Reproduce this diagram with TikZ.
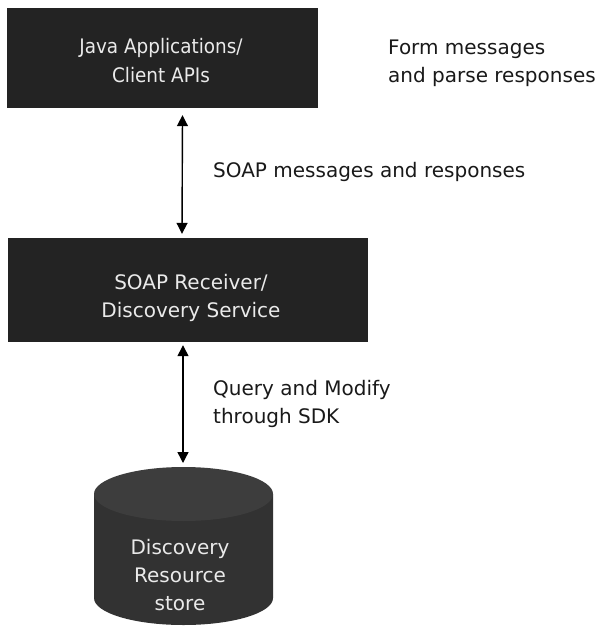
\documentclass[tikz,border=0pt]{standalone}
\usepackage{fontspec}
\setmainfont{DejaVu Sans}
\newfontfamily\narrowsans[FakeStretch=0.92]{DejaVu Sans}
\usetikzlibrary{arrows.meta,shapes.geometric}
\definecolor{boxfill}{HTML}{232323}
\definecolor{boxtext}{HTML}{EAEAEA}
\definecolor{drumbody}{HTML}{323232}
\definecolor{drumtop}{HTML}{3D3D3D}
\begin{document}
\begin{tikzpicture}[x=1pt,y=-1pt,
  font=\fontsize{20}{28}\selectfont,
  block/.style={fill=boxfill, text=boxtext, align=center, inner sep=0pt},
  note/.style={align=left, anchor=west, inner sep=0pt, text=black!90},
  link/.style={line width=1.4pt, {Triangle[length=11pt,width=11pt]}-{Triangle[length=11pt,width=11pt]}}]
\useasboundingbox (0,0) rectangle (602,626);
% layers: client, receiver
\node[block, minimum width=311pt, minimum height=100pt] (client) at (162.5,58) {};
\node[text=boxtext, align=center, inner sep=0pt, font=\narrowsans\fontsize{20}{29}\selectfont] (clienttext) at (161,61) {Java Applications/\\Client APIs};
\node[block, minimum width=360pt, minimum height=104pt] (recv) at (188,290) {};
\node[text=boxtext, align=center, inner sep=0pt] (recvtext) at (191,298) {SOAP Receiver/\\Discovery Service};
% data store drawn as a drum
\fill[drumbody] (94,494) -- (94,598) arc[start angle=180, end angle=0, x radius=89.5, y radius=27] -- (273,494) -- cycle;
\fill[drumtop] (183.5,494) ellipse[x radius=89.5, y radius=27];
\node[text=boxtext, align=center, inner sep=0pt] (store) at (180,575) {Discovery\\Resource\\store};
\coordinate (storetop) at (183,463);
% connectors
\draw[link] ([xshift=20pt,yshift=-7pt]client.south) -- ([xshift=-6pt,yshift=4pt]recv.north);
\draw[link] ([xshift=-5pt,yshift=-3pt]recv.south) -- (storetop);
% annotations
\node[note] (n1) at (388,63) {Form messages\\and parse responses};
\node[note] (n2) at (213,172) {SOAP messages and responses};
\node[note] (n3) at (213,404) {Query and Modify\\through SDK};
\end{tikzpicture}
\end{document}
